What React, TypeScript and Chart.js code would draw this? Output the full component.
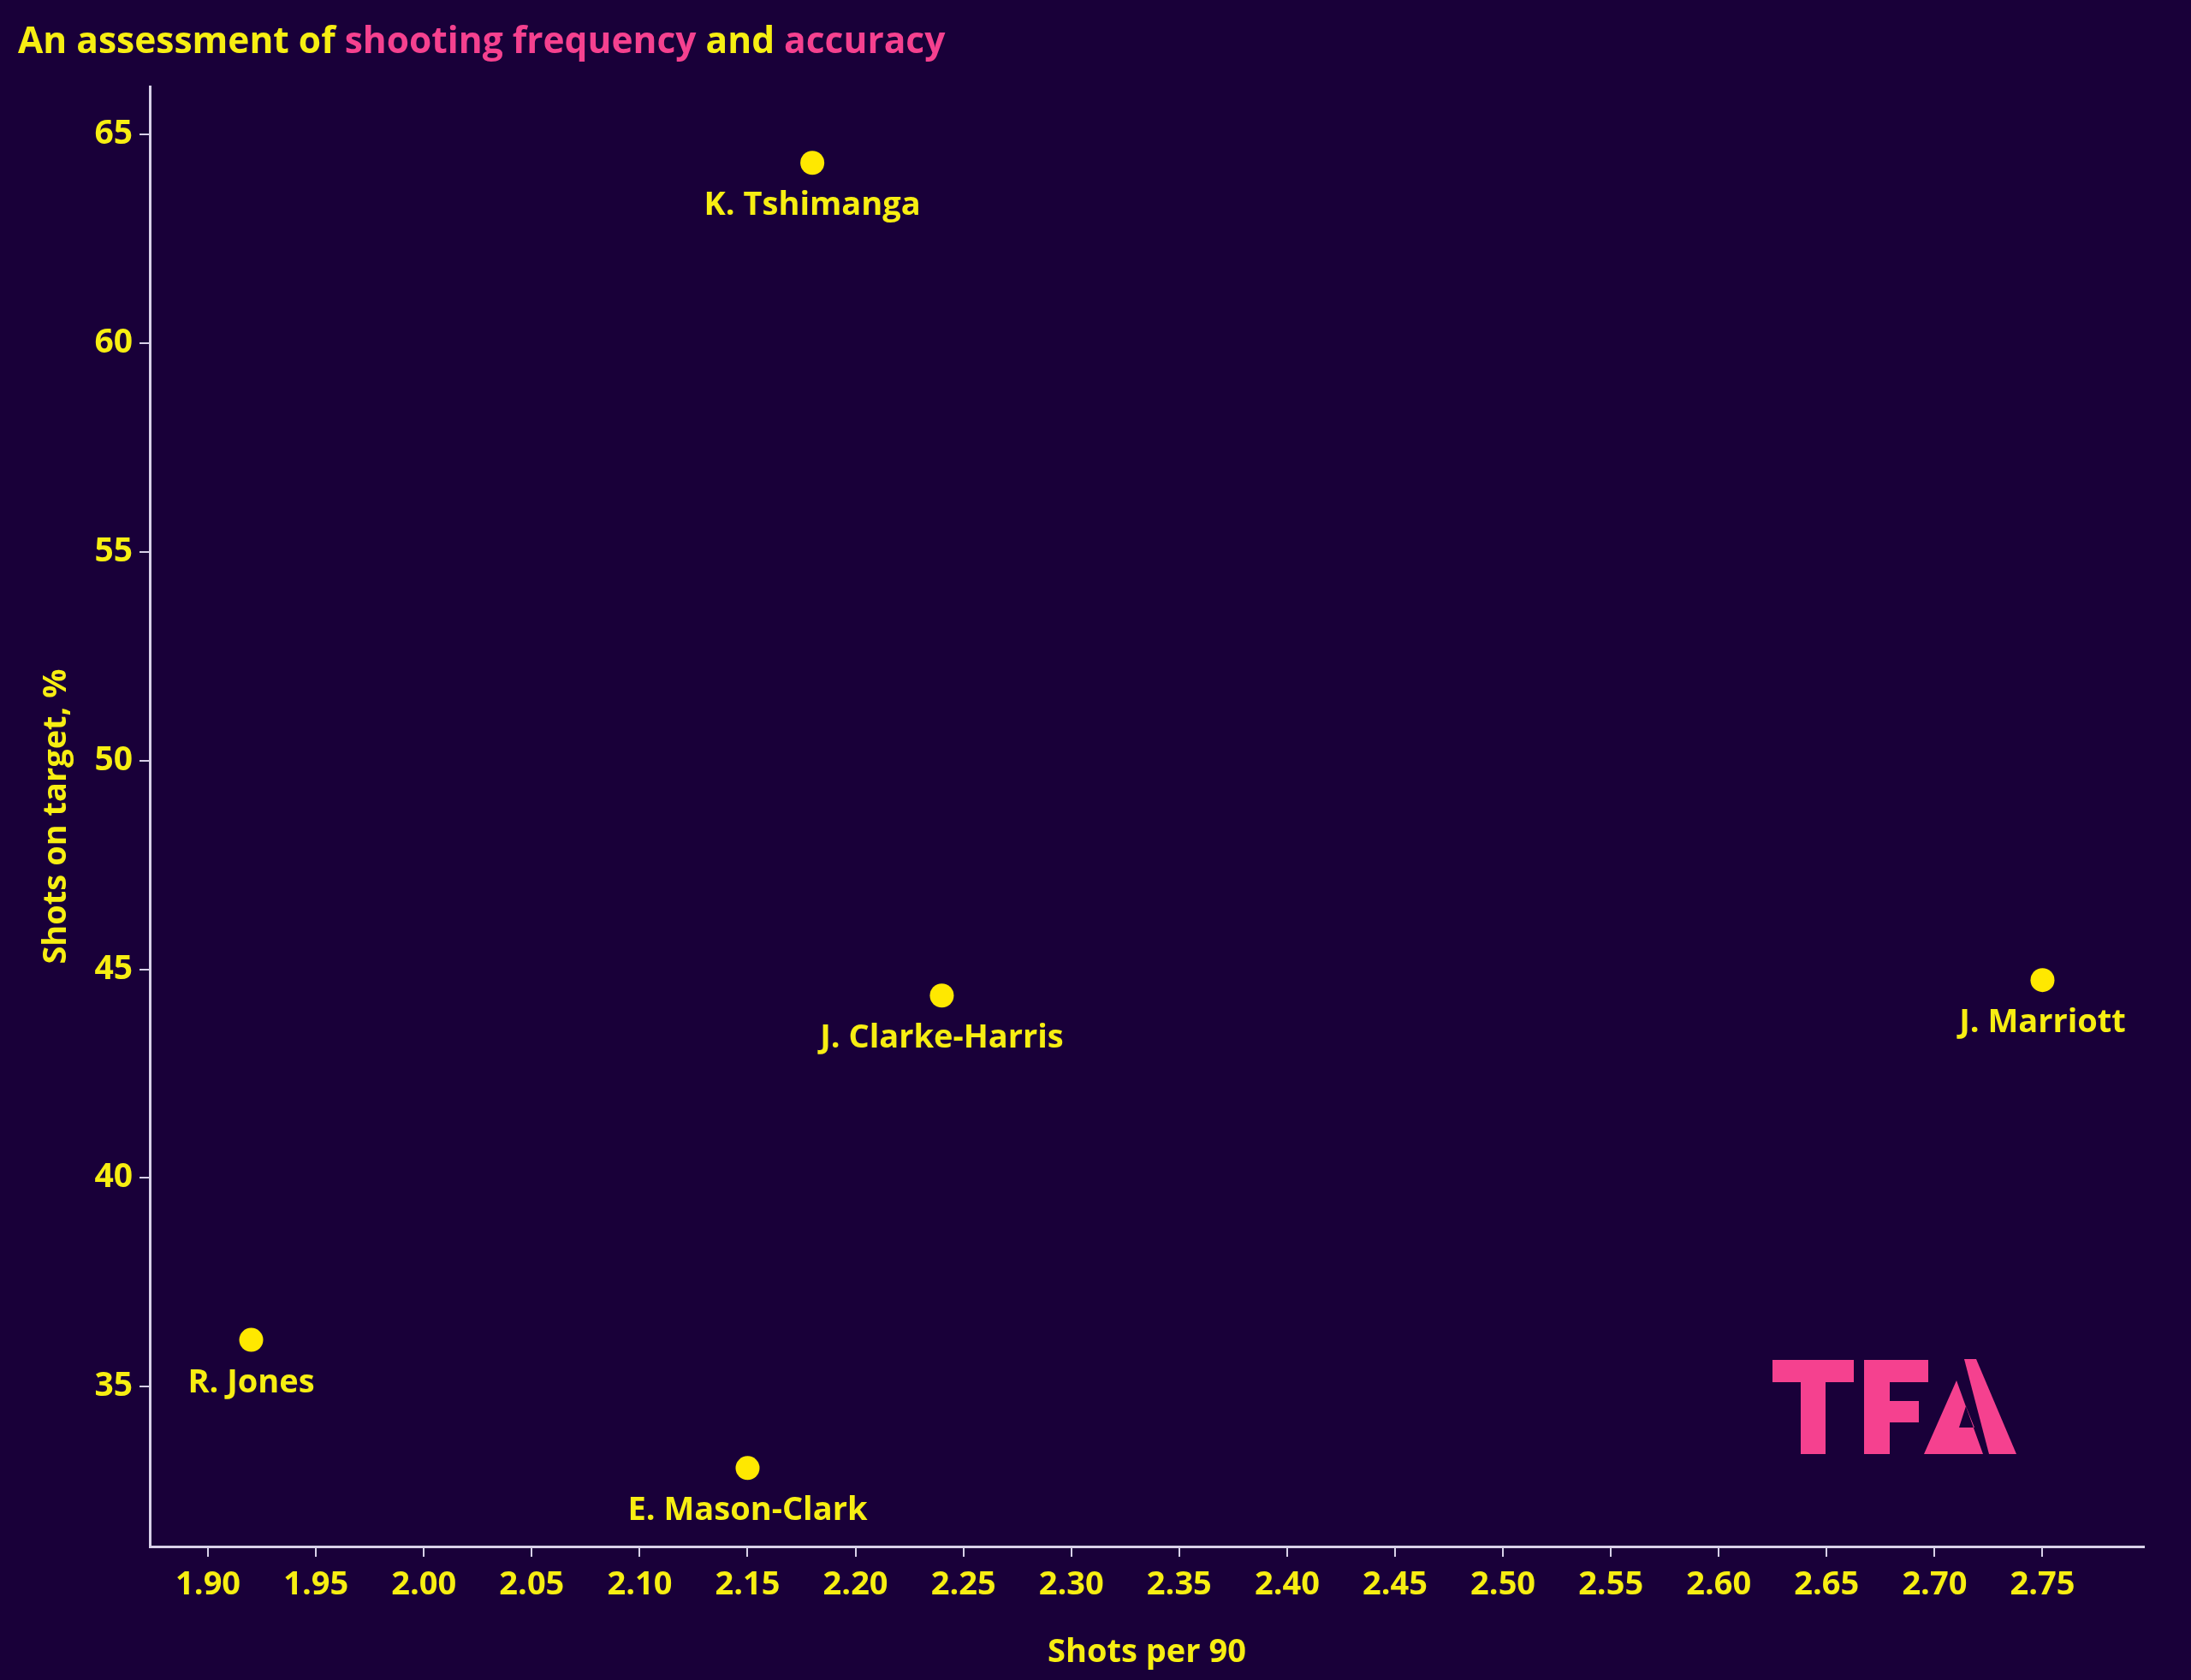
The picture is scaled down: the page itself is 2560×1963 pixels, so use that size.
import React, { useEffect, useRef } from "react";
import { Chart, registerables } from "chart.js";

Chart.register(...registerables);

const PLAYERS = ["K. Tshimanga", "J. Clarke-Harris", "J. Marriott", "R. Jones", "E. Mason-Clark"];
const SHOTS_PER_90 = [2.18, 2.24, 2.75, 1.92, 2.15];
const SHOTS_ON_TARGET = [64.32, 44.37, 44.74, 36.12, 33.05];
const X_TICKS = [1.9, 1.95, 2.0, 2.05, 2.1, 2.15, 2.2, 2.25, 2.3, 2.35, 2.4, 2.45, 2.5, 2.55, 2.6, 2.65, 2.7, 2.75];
const Y_TICKS = [35, 40, 45, 50, 55, 60, 65];
const TITLE_PARTS = [
  { text: "An assessment of ", pink: false },
  { text: "shooting frequency", pink: true },
  { text: " and ", pink: false },
  { text: "accuracy", pink: true },
];
const X_TITLE = "Shots per 90";
const Y_TITLE = "Shots on target, %";

const BG = "#190039";
const YELLOW = "#f7ee12";
const DOT = "#ffe800";
const PINK = "#f5418f";
const AXIS = "#d8d0e8";
const FONT = "'Open Sans', sans-serif";

const decorPlugin = {
  id: "decor",
  beforeDraw(chart: any) {
    const ctx = chart.ctx;
    ctx.save();
    ctx.fillStyle = BG;
    ctx.fillRect(0, 0, chart.width, chart.height);
    ctx.restore();
  },
  afterDatasetsDraw(chart: any) {
    const ctx = chart.ctx;
    const meta = chart.getDatasetMeta(0);
    ctx.save();
    ctx.font = `bold 38px ${FONT}`;
    ctx.fillStyle = YELLOW;
    ctx.textAlign = "center";
    ctx.textBaseline = "alphabetic";
    meta.data.forEach((el: any, i: number) => {
      ctx.fillText(PLAYERS[i], el.x, el.y + 61);
    });
    ctx.restore();
  },
  afterDraw(chart: any) {
    const ctx = chart.ctx;
    const area = chart.chartArea;
    ctx.save();
    // title
    ctx.font = `bold 42.5px ${FONT}`;
    ctx.textBaseline = "alphabetic";
    ctx.textAlign = "left";
    let x = 21;
    TITLE_PARTS.forEach((p) => {
      ctx.fillStyle = p.pink ? PINK : YELLOW;
      ctx.fillText(p.text, x, 62);
      x += ctx.measureText(p.text).width;
    });
    // axis titles
    ctx.font = `bold 38px ${FONT}`;
    ctx.fillStyle = YELLOW;
    ctx.textAlign = "center";
    ctx.fillText(X_TITLE, (area.left + area.right) / 2, 1942);
    ctx.save();
    ctx.translate(66, (area.top + area.bottom) / 2);
    ctx.rotate(-Math.PI / 2);
    ctx.textBaseline = "middle";
    ctx.fillText(Y_TITLE, 0, 0);
    ctx.restore();
    // TFA logo
    ctx.fillStyle = PINK;
    const rect = (x0: number, y0: number, x1: number, y1: number) => ctx.fillRect(x0, y0, x1 - x0, y1 - y0);
    rect(2071, 1589, 2166, 1615);
    rect(2104, 1615, 2133, 1699);
    rect(2178, 1589, 2208, 1699);
    rect(2178, 1589, 2253, 1615);
    rect(2178, 1637, 2242, 1662);
    ctx.beginPath();
    ctx.moveTo(2295, 1588);
    ctx.lineTo(2309, 1588);
    ctx.lineTo(2356, 1699);
    ctx.lineTo(2324, 1699);
    ctx.closePath();
    ctx.fill();
    ctx.beginPath();
    ctx.moveTo(2286, 1613);
    ctx.lineTo(2248, 1699);
    ctx.lineTo(2317, 1699);
    ctx.closePath();
    ctx.moveTo(2297, 1643);
    ctx.lineTo(2289, 1668);
    ctx.lineTo(2307, 1668);
    ctx.closePath();
    ctx.fill("evenodd");
    ctx.restore();
  },
};

export default function App() {
  const canvasRef = useRef<HTMLCanvasElement | null>(null);

  useEffect(() => {
    if (!canvasRef.current) return;
    const chart = new Chart(canvasRef.current, {
      type: "scatter",
      data: {
        datasets: [
          {
            data: SHOTS_PER_90.map((v, i) => ({ x: v, y: SHOTS_ON_TARGET[i] })),
            backgroundColor: DOT,
            borderWidth: 0,
            pointRadius: 14,
            pointHoverRadius: 14,
          },
        ],
      },
      options: {
        animation: false,
        responsive: true,
        maintainAspectRatio: false,
        layout: { padding: { top: 101, right: 55, left: 0, bottom: 0 } },
        plugins: { legend: { display: false }, tooltip: { enabled: false }, title: { display: false } },
        scales: {
          x: {
            type: "linear",
            min: 1.873,
            max: 2.797,
            afterBuildTicks: (scale: any) => {
              scale.ticks = X_TICKS.map((v) => ({ value: v }));
            },
            afterFit: (scale: any) => {
              scale.height = 156;
            },
            border: { display: true, color: AXIS, width: 3 },
            grid: { display: true, drawOnChartArea: false, drawTicks: true, tickLength: 12, color: AXIS, lineWidth: 2 },
            ticks: {
              color: YELLOW,
              font: { family: FONT, size: 38, weight: "bold" },
              padding: 10,
              maxRotation: 0,
              autoSkip: false,
              callback: (v: any) => Number(v).toFixed(2),
            },
          },
          y: {
            type: "linear",
            min: 31.17,
            max: 66.15,
            afterBuildTicks: (scale: any) => {
              scale.ticks = Y_TICKS.map((v) => ({ value: v }));
            },
            afterFit: (scale: any) => {
              scale.width = 175;
            },
            border: { display: true, color: AXIS, width: 3 },
            grid: { display: true, drawOnChartArea: false, drawTicks: true, tickLength: 12, color: AXIS, lineWidth: 2 },
            ticks: {
              color: YELLOW,
              font: { family: FONT, size: 39, weight: "bold" },
              padding: 8,
              autoSkip: false,
              callback: (v: any) => String(v),
            },
          },
        },
      },
      plugins: [decorPlugin],
    });
    return () => chart.destroy();
  }, []);

  return (
    <div style={{ position: "absolute", left: 0, top: 0, width: 2560, height: 1963, background: BG }}>
      <canvas ref={canvasRef} />
    </div>
  );
}
